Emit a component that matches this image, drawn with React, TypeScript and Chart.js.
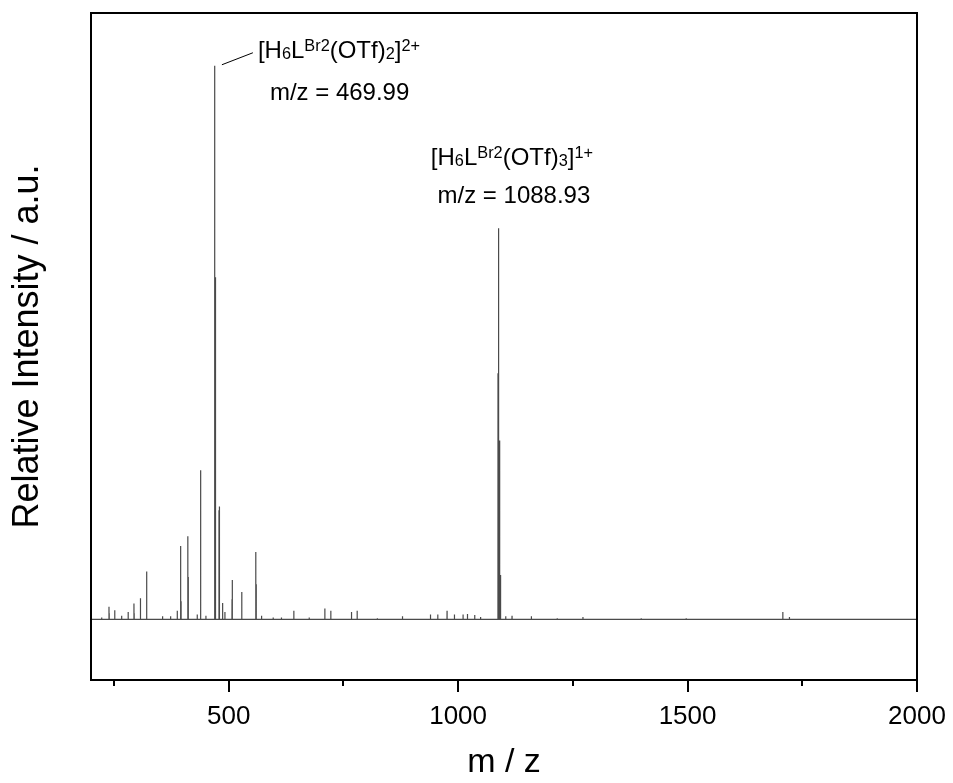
import React, { useEffect, useRef } from "react";
import { Chart, registerables } from "chart.js";

Chart.register(...registerables);

// Stick spectrum: m/z positions and relative intensities (a.u.)
const peakMz = [
  223.3, 239.2, 239.7, 251.5, 252.0, 266.8, 281.0, 293.6, 294.1, 307.5, 308.0,
  320.8, 321.3, 321.8, 356.0, 373.5, 388.0, 394.8, 395.3, 395.8, 396.3,
  410.7, 411.2, 411.7, 412.2, 431.5, 438.4, 438.9, 439.4, 450.4,
  468.99, 469.49, 469.99, 470.49, 470.99, 471.49, 471.99,
  478.9, 479.4, 479.9, 480.4, 486.8, 491.8, 507.3, 507.8, 508.3, 528.3, 528.8,
  558.8, 559.3, 559.8, 560.3, 571.7, 597.0, 615.0, 642.0, 675.5,
  709.6, 722.6, 767.7, 780.0, 824.0, 878.8, 939.8, 955.7, 975.9, 992.0,
  1010.8, 1020.4, 1036.2, 1049.0,
  1086.93, 1087.93, 1088.93, 1089.93, 1090.93, 1091.93, 1092.93,
  1103.8, 1117.5, 1159.7, 1216.0, 1272.0, 1399.0, 1497.0, 1707.6, 1722.0,
];
const peakIntensity = [
  0.3, 2.1, 1.0, 1.3, 1.5, 0.6, 1.2, 2.6, 1.0, 3.0, 3.5,
  7.5, 7.9, 3.0, 0.5, 0.5, 1.4, 6.0, 12.1, 6.0, 3.0,
  7.0, 13.7, 7.0, 3.0, 0.8, 3.1, 24.6, 3.1, 0.6,
  29.5, 43.6, 91.3, 56.4, 43.6, 18.0, 8.0,
  18.0, 18.6, 9.4, 5.0, 2.7, 1.2, 3.3, 6.5, 3.3, 3.0, 4.5,
  5.8, 11.1, 5.8, 3.0, 0.6, 0.3, 0.3, 1.4, 0.3,
  1.8, 1.4, 1.2, 1.4, 0.2, 0.5, 0.8, 0.8, 1.4, 0.8,
  0.8, 0.9, 0.7, 0.4,
  40.6, 16.5, 64.5, 16.5, 29.5, 7.3, 3.0,
  0.5, 0.6, 0.5, 0.2, 0.4, 0.2, 0.2, 1.2, 0.4,
];

const xMin = 200;
const xMax = 2000;
const yMin = -10;
const yMax = 100;
const xTickValues = [250, 500, 750, 1000, 1250, 1500, 1750, 2000];
const labeledTicks = [500, 1000, 1500, 2000];

const xTitle = "m / z";
const yTitle = "Relative Intensity / a.u.";

type Seg = { t: string; s?: "sub" | "sup" };
const ion1: Seg[] = [
  { t: "[H" }, { t: "6", s: "sub" }, { t: "L" }, { t: "Br2", s: "sup" },
  { t: "(OTf)" }, { t: "2", s: "sub" }, { t: "]" }, { t: "2+", s: "sup" },
];
const ion2: Seg[] = [
  { t: "[H" }, { t: "6", s: "sub" }, { t: "L" }, { t: "Br2", s: "sup" },
  { t: "(OTf)" }, { t: "3", s: "sub" }, { t: "]" }, { t: "1+", s: "sup" },
];
const ion1Mz = 469.99;
const ion2Mz = 1088.93;
const ion1Label = "m/z = 469.99";
const ion2Label = "m/z = 1088.93";

const FONT = "'Liberation Sans', Arial, Helvetica, sans-serif";

function buildProfile() {
  const idx = peakMz.map((_, i) => i).sort((a, b) => peakMz[a] - peakMz[b]);
  const pts: { x: number; y: number }[] = [{ x: xMin, y: 0 }];
  const hw = 0.12;
  for (const i of idx) {
    pts.push({ x: peakMz[i] - hw, y: 0 });
    pts.push({ x: peakMz[i], y: peakIntensity[i] });
    pts.push({ x: peakMz[i] + hw, y: 0 });
  }
  pts.push({ x: xMax, y: 0 });
  return pts;
}

function richWidth(ctx: CanvasRenderingContext2D, segs: Seg[], size: number) {
  let w = 0;
  for (const s of segs) {
    ctx.font = `${s.s ? size * 0.68 : size}px ${FONT}`;
    w += ctx.measureText(s.t).width;
  }
  return w;
}

function drawRich(ctx: CanvasRenderingContext2D, segs: Seg[], x: number, y: number, size: number) {
  let cx = x;
  ctx.textAlign = "left";
  ctx.textBaseline = "alphabetic";
  for (const s of segs) {
    const fs = s.s ? size * 0.68 : size;
    ctx.font = `${fs}px ${FONT}`;
    const dy = s.s === "sup" ? -size * 0.3 : s.s === "sub" ? size * 0.05 : 0;
    ctx.fillText(s.t, cx, y + dy);
    cx += ctx.measureText(s.t).width;
  }
}

const framePlugin = {
  id: "frameAndNotes",
  afterDraw(chart: any) {
    const { ctx, chartArea } = chart;
    const xs = chart.scales.x;
    const ys = chart.scales.y;
    ctx.save();
    ctx.strokeStyle = "#000";
    ctx.lineWidth = 2;
    ctx.strokeRect(chartArea.left, chartArea.top, chartArea.right - chartArea.left, chartArea.bottom - chartArea.top);

    // outward tick marks on the m/z axis
    for (const v of xTickValues) {
      const px = Math.round(xs.getPixelForValue(v));
      const len = labeledTicks.includes(v) ? 12 : 6;
      ctx.beginPath();
      ctx.moveTo(px, chartArea.bottom);
      ctx.lineTo(px, chartArea.bottom + len);
      ctx.stroke();
    }

    ctx.fillStyle = "#000";
    const size = 24;

    // first ion label with leader line
    const p1x = xs.getPixelForValue(ion1Mz);
    const p1y = ys.getPixelForValue(peakIntensity[peakMz.indexOf(ion1Mz)]);
    ctx.lineWidth = 1;
    ctx.beginPath();
    ctx.moveTo(p1x + 7, p1y - 1);
    ctx.lineTo(p1x + 38, p1y - 13);
    ctx.stroke();
    drawRich(ctx, ion1, p1x + 43, p1y - 8, size);
    ctx.font = `${size}px ${FONT}`;
    ctx.textAlign = "left";
    ctx.fillText(ion1Label, p1x + 55, p1y + 34);

    // second ion label centred over its peak
    const p2x = xs.getPixelForValue(ion2Mz);
    const p2y = ys.getPixelForValue(peakIntensity[peakMz.indexOf(ion2Mz)]);
    const w2 = richWidth(ctx, ion2, size);
    const c2 = p2x + 13;
    drawRich(ctx, ion2, c2 - w2 / 2, p2y - 63, size);
    ctx.font = `${size}px ${FONT}`;
    ctx.textAlign = "center";
    ctx.fillText(ion2Label, c2 + 2, p2y - 25);
    ctx.restore();
  },
};

export default function App() {
  const ref = useRef<HTMLCanvasElement | null>(null);

  useEffect(() => {
    if (!ref.current) return;
    const chart = new Chart(ref.current, {
      type: "line",
      data: {
        datasets: [
          {
            data: buildProfile(),
            borderColor: "#4a4a4a",
            borderWidth: 1.2,
            pointRadius: 0,
            tension: 0,
            fill: false,
          },
        ],
      },
      options: {
        responsive: false,
        animation: false,
        events: [],
        layout: { padding: { top: 13, right: 36, left: 0, bottom: 0 } },
        plugins: { legend: { display: false }, tooltip: { enabled: false } },
        scales: {
          x: {
            type: "linear",
            min: xMin,
            max: xMax,
            grid: { display: false, drawTicks: false },
            border: { display: false },
            afterBuildTicks: (s: any) => {
              s.ticks = xTickValues.map((v) => ({ value: v }));
            },
            afterFit: (s: any) => {
              s.height = 103;
              s.paddingLeft = 0;
              s.paddingRight = 0;
            },
            ticks: {
              autoSkip: false,
              maxRotation: 0,
              padding: 21,
              color: "#000",
              font: { family: FONT, size: 26 },
              callback: (v: any) => (labeledTicks.includes(Number(v)) ? String(v) : ""),
            },
            title: {
              display: true,
              text: xTitle,
              color: "#000",
              font: { family: FONT, size: 34 },
              padding: { top: 0, bottom: 0 },
            },
          },
          y: {
            type: "linear",
            min: yMin,
            max: yMax,
            grid: { display: false, drawTicks: false },
            border: { display: false },
            ticks: { display: false },
            afterFit: (s: any) => {
              s.width = 91;
            },
            title: {
              display: true,
              text: yTitle,
              color: "#000",
              font: { family: FONT, size: 36 },
              padding: { top: 6, bottom: 0 },
            },
          },
        },
      },
      plugins: [framePlugin],
    });
    return () => chart.destroy();
  }, []);

  return (
    <canvas
      ref={ref}
      width={953}
      height={783}
      style={{ position: "absolute", left: 0, top: 0, display: "block", background: "#fff" }}
    />
  );
}
